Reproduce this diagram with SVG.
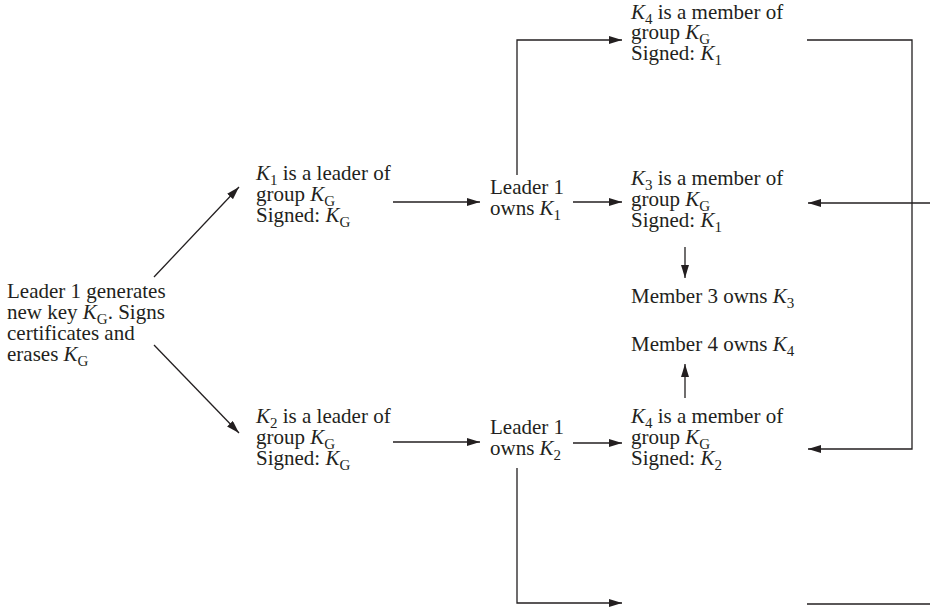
<svg xmlns="http://www.w3.org/2000/svg" width="930" height="607" viewBox="0 0 930 607">
<style>
.t{font-family:"Liberation Serif","Times New Roman",serif;font-size:21px;fill:#231f20}
.i{font-style:italic}
.s{font-size:15px}
.c{fill:none;stroke:#231f20;stroke-width:1.3}
</style>
<defs>
<marker id="ah" markerUnits="userSpaceOnUse" markerWidth="13" markerHeight="8" refX="13" refY="4" orient="auto">
<path d="M0,0 L13,4 L0,8 Z" fill="#231f20"/>
</marker>
</defs>
<rect width="930" height="607" fill="#fff"/>
<g id="connectors">
<path class="c" d="M154,277 L239,187" marker-end="url(#ah)"/>
<path class="c" d="M154,345 L239,433" marker-end="url(#ah)"/>
<path class="c" d="M393,202 H480" marker-end="url(#ah)"/>
<path class="c" d="M573,202 H622" marker-end="url(#ah)"/>
<path class="c" d="M517,175 V40 H622" marker-end="url(#ah)"/>
<path class="c" d="M807,40 H912 V449 H808" marker-end="url(#ah)"/>
<path class="c" d="M930,203 H808" marker-end="url(#ah)"/>
<path class="c" d="M685,247 V278" marker-end="url(#ah)"/>
<path class="c" d="M685,398 V364" marker-end="url(#ah)"/>
<path class="c" d="M393,442 H480" marker-end="url(#ah)"/>
<path class="c" d="M573,443 H622" marker-end="url(#ah)"/>
<path class="c" d="M517,468 V603 H622" marker-end="url(#ah)"/>
<path class="c" d="M807,604 H930"/>
</g>
<g id="leader-generates">
<text class="t" x="7" y="298">Leader 1 generates</text>
<text class="t" x="7" y="319">new key <tspan class="i">K</tspan><tspan class="s" dy="5">G</tspan><tspan dy="-5">. Signs</tspan></text>
<text class="t" x="7" y="340">certificates and</text>
<text class="t" x="7" y="361">erases <tspan class="i">K</tspan><tspan class="s" dy="5">G</tspan></text>
</g>
<g id="k1-leader">
<text class="t" x="256" y="180"><tspan class="i">K</tspan><tspan class="s" dy="5">1</tspan><tspan dy="-5"> is a leader of</tspan></text>
<text class="t" x="256" y="201">group <tspan class="i">K</tspan><tspan class="s" dy="5">G</tspan></text>
<text class="t" x="256" y="222">Signed: <tspan class="i">K</tspan><tspan class="s" dy="5">G</tspan></text>
</g>
<g id="k2-leader">
<text class="t" x="256" y="423"><tspan class="i">K</tspan><tspan class="s" dy="5">2</tspan><tspan dy="-5"> is a leader of</tspan></text>
<text class="t" x="256" y="444">group <tspan class="i">K</tspan><tspan class="s" dy="5">G</tspan></text>
<text class="t" x="256" y="465">Signed: <tspan class="i">K</tspan><tspan class="s" dy="5">G</tspan></text>
</g>
<g id="leader-owns-k1">
<text class="t" x="490" y="194">Leader 1</text>
<text class="t" x="490" y="215">owns <tspan class="i">K</tspan><tspan class="s" dy="5">1</tspan></text>
</g>
<g id="leader-owns-k2">
<text class="t" x="490" y="434">Leader 1</text>
<text class="t" x="490" y="455">owns <tspan class="i">K</tspan><tspan class="s" dy="5">2</tspan></text>
</g>
<g id="k4-member-top">
<text class="t" x="631" y="19"><tspan class="i">K</tspan><tspan class="s" dy="5">4</tspan><tspan dy="-5"> is a member of</tspan></text>
<text class="t" x="631" y="39">group <tspan class="i">K</tspan><tspan class="s" dy="5">G</tspan></text>
<text class="t" x="631" y="60">Signed: <tspan class="i">K</tspan><tspan class="s" dy="5">1</tspan></text>
</g>
<g id="k3-member">
<text class="t" x="631" y="185"><tspan class="i">K</tspan><tspan class="s" dy="5">3</tspan><tspan dy="-5"> is a member of</tspan></text>
<text class="t" x="631" y="206">group <tspan class="i">K</tspan><tspan class="s" dy="5">G</tspan></text>
<text class="t" x="631" y="227">Signed: <tspan class="i">K</tspan><tspan class="s" dy="5">1</tspan></text>
</g>
<g id="member3">
<text class="t" x="631" y="303">Member 3 owns <tspan class="i">K</tspan><tspan class="s" dy="5">3</tspan></text>
</g>
<g id="member4">
<text class="t" x="631" y="351">Member 4 owns <tspan class="i">K</tspan><tspan class="s" dy="5">4</tspan></text>
</g>
<g id="k4-member-bottom">
<text class="t" x="631" y="423"><tspan class="i">K</tspan><tspan class="s" dy="5">4</tspan><tspan dy="-5"> is a member of</tspan></text>
<text class="t" x="631" y="444">group <tspan class="i">K</tspan><tspan class="s" dy="5">G</tspan></text>
<text class="t" x="631" y="465">Signed: <tspan class="i">K</tspan><tspan class="s" dy="5">2</tspan></text>
</g>
</svg>
